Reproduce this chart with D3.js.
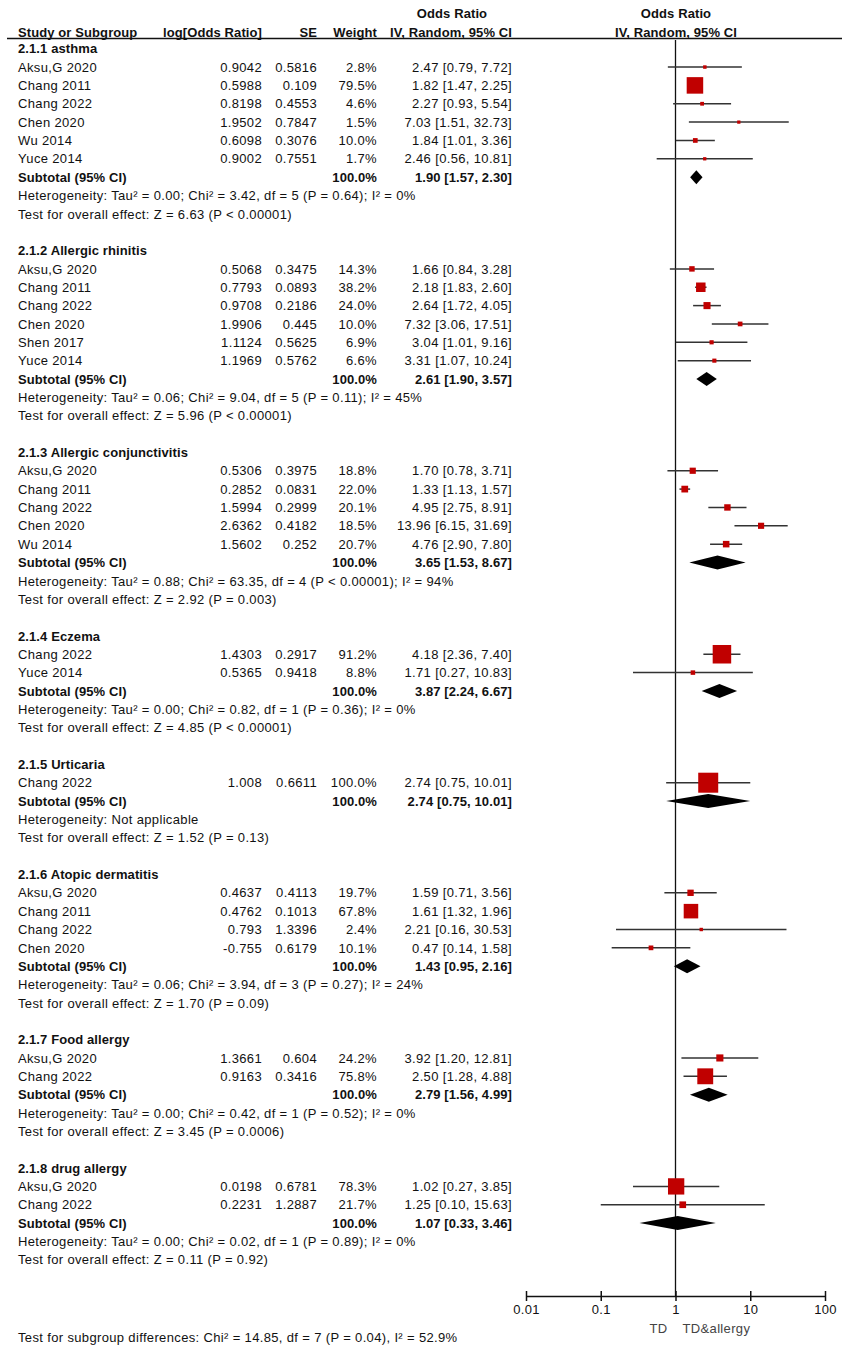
<!DOCTYPE html>
<html>
<head>
<meta charset="utf-8">
<script src="https://cdn.jsdelivr.net/npm/d3@7"></script>
<style>
  body { margin: 0; background: #fff; }
  svg text { font-family: "Liberation Sans", Arial, sans-serif; font-size: 13px; letter-spacing: 0.35px; fill: #111; }
  svg text.bold { font-weight: bold; letter-spacing: 0.1px; }
</style>
</head>
<body>
<svg class="chart"></svg>
<script>
// Data
const GROUP_TITLES = [
  "2.1.1 asthma", "2.1.2 Allergic rhinitis", "2.1.3 Allergic conjunctivitis", "2.1.4 Eczema",
  "2.1.5 Urticaria", "2.1.6 Atopic dermatitis", "2.1.7 Food allergy", "2.1.8 drug allergy"
];

const STUDY_NAMES = [
  ["Aksu,G 2020", "Chang 2011", "Chang 2022", "Chen 2020", "Wu 2014", "Yuce 2014"],
  ["Aksu,G 2020", "Chang 2011", "Chang 2022", "Chen 2020", "Shen 2017", "Yuce 2014"],
  ["Aksu,G 2020", "Chang 2011", "Chang 2022", "Chen 2020", "Wu 2014"],
  ["Chang 2022", "Yuce 2014"],
  ["Chang 2022"],
  ["Aksu,G 2020", "Chang 2011", "Chang 2022", "Chen 2020"],
  ["Aksu,G 2020", "Chang 2022"],
  ["Aksu,G 2020", "Chang 2022"]
];

const LOG_OR = [
  ["0.9042", "0.5988", "0.8198", "1.9502", "0.6098", "0.9002"],
  ["0.5068", "0.7793", "0.9708", "1.9906", "1.1124", "1.1969"],
  ["0.5306", "0.2852", "1.5994", "2.6362", "1.5602"],
  ["1.4303", "0.5365"],
  ["1.008"],
  ["0.4637", "0.4762", "0.793", "-0.755"],
  ["1.3661", "0.9163"],
  ["0.0198", "0.2231"]
];

const SE = [
  ["0.5816", "0.109", "0.4553", "0.7847", "0.3076", "0.7551"],
  ["0.3475", "0.0893", "0.2186", "0.445", "0.5625", "0.5762"],
  ["0.3975", "0.0831", "0.2999", "0.4182", "0.252"],
  ["0.2917", "0.9418"],
  ["0.6611"],
  ["0.4113", "0.1013", "1.3396", "0.6179"],
  ["0.604", "0.3416"],
  ["0.6781", "1.2887"]
];

const WEIGHTS = [
  [2.8, 79.5, 4.6, 1.5, 10.0, 1.7],
  [14.3, 38.2, 24.0, 10.0, 6.9, 6.6],
  [18.8, 22.0, 20.1, 18.5, 20.7],
  [91.2, 8.8],
  [100.0],
  [19.7, 67.8, 2.4, 10.1],
  [24.2, 75.8],
  [78.3, 21.7]
];

const ODDS = [
  [2.47, 1.82, 2.27, 7.03, 1.84, 2.46],
  [1.66, 2.18, 2.64, 7.32, 3.04, 3.31],
  [1.70, 1.33, 4.95, 13.96, 4.76],
  [4.18, 1.71],
  [2.74],
  [1.59, 1.61, 2.21, 0.47],
  [3.92, 2.50],
  [1.02, 1.25]
];

const CI_LOW = [
  [0.79, 1.47, 0.93, 1.51, 1.01, 0.56],
  [0.84, 1.83, 1.72, 3.06, 1.01, 1.07],
  [0.78, 1.13, 2.75, 6.15, 2.90],
  [2.36, 0.27],
  [0.75],
  [0.71, 1.32, 0.16, 0.14],
  [1.20, 1.28],
  [0.27, 0.10]
];

const CI_HIGH = [
  [7.72, 2.25, 5.54, 32.73, 3.36, 10.81],
  [3.28, 2.60, 4.05, 17.51, 9.16, 10.24],
  [3.71, 1.57, 8.91, 31.69, 7.80],
  [7.40, 10.83],
  [10.01],
  [3.56, 1.96, 30.53, 1.58],
  [12.81, 4.88],
  [3.85, 15.63]
];

const SUB_ODDS = [1.90, 2.61, 3.65, 3.87, 2.74, 1.43, 2.79, 1.07];
const SUB_LOW  = [1.57, 1.90, 1.53, 2.24, 0.75, 0.95, 1.56, 0.33];
const SUB_HIGH = [2.30, 3.57, 8.67, 6.67, 10.01, 2.16, 4.99, 3.46];

const HETEROGENEITY = [
  "Heterogeneity: Tau² = 0.00; Chi² = 3.42, df = 5 (P = 0.64); I² = 0%",
  "Heterogeneity: Tau² = 0.06; Chi² = 9.04, df = 5 (P = 0.11); I² = 45%",
  "Heterogeneity: Tau² = 0.88; Chi² = 63.35, df = 4 (P < 0.00001); I² = 94%",
  "Heterogeneity: Tau² = 0.00; Chi² = 0.82, df = 1 (P = 0.36); I² = 0%",
  "Heterogeneity: Not applicable",
  "Heterogeneity: Tau² = 0.06; Chi² = 3.94, df = 3 (P = 0.27); I² = 24%",
  "Heterogeneity: Tau² = 0.00; Chi² = 0.42, df = 1 (P = 0.52); I² = 0%",
  "Heterogeneity: Tau² = 0.00; Chi² = 0.02, df = 1 (P = 0.89); I² = 0%"
];

const OVERALL = [
  "Test for overall effect: Z = 6.63 (P < 0.00001)",
  "Test for overall effect: Z = 5.96 (P < 0.00001)",
  "Test for overall effect: Z = 2.92 (P = 0.003)",
  "Test for overall effect: Z = 4.85 (P < 0.00001)",
  "Test for overall effect: Z = 1.52 (P = 0.13)",
  "Test for overall effect: Z = 1.70 (P = 0.09)",
  "Test for overall effect: Z = 3.45 (P = 0.0006)",
  "Test for overall effect: Z = 0.11 (P = 0.92)"
];

const AXIS_TICKS = [0.01, 0.1, 1, 10, 100];
const SUBGROUP_TEST = "Test for subgroup differences: Chi² = 14.85, df = 7 (P = 0.04), I² = 52.9%";

// Layout
const WIDTH = 849, HEIGHT = 1350;
const COL = { name: 18, logor: 262, se: 317, weight: 377, ci: 512 };
const AXIS_Y = 1296;

const svg = d3.select(".chart").attr("width", WIDTH).attr("height", HEIGHT);

const X_fxn = d3.scaleLog().domain([0.01, 100]).range([526, 825]);
const ROW_fxn = d3.scaleLinear().domain([0, 1]).range([48.7, 67.05]);
const SIZE_fxn = d3.scaleLinear().domain([0, 100]).range([3, 20]);

const fmtCI = (o, l, h) => `${o.toFixed(2)} [${l.toFixed(2)}, ${h.toFixed(2)}]`;

function addText(x, y, txt, anchor, bold) {
  return svg.append("text")
    .attr("x", x).attr("y", y).attr("dy", "0.36em")
    .attr("text-anchor", anchor || "start")
    .attr("class", bold ? "bold" : null)
    .text(txt);
}

// header
addText(452, 13, "Odds Ratio", "middle", true);
addText(676, 13, "Odds Ratio", "middle", true);
addText(COL.name, 32, "Study or Subgroup", "start", true);
addText(COL.logor, 32, "log[Odds Ratio]", "end", true);
addText(COL.se, 32, "SE", "end", true);
addText(COL.weight, 32, "Weight", "end", true);
addText(COL.ci, 32, "IV, Random, 95% CI", "end", true);
addText(676, 32, "IV, Random, 95% CI", "middle", true);
svg.append("line").attr("x1", 7).attr("x2", 842).attr("y1", 38.5).attr("y2", 38.5)
  .attr("stroke", "#111").attr("stroke-width", 1.5);

// line of no effect
svg.append("line")
  .attr("x1", X_fxn(1)).attr("x2", X_fxn(1))
  .attr("y1", 40).attr("y2", AXIS_Y)
  .attr("stroke", "#111").attr("stroke-width", 1.3);

let row = 0;
GROUP_TITLES.forEach((title, g) => {
  addText(COL.name, ROW_fxn(row), title, "start", true);
  row++;
  STUDY_NAMES[g].forEach((name, i) => {
    const y = ROW_fxn(row);
    addText(COL.name, y, name);
    addText(COL.logor, y, LOG_OR[g][i], "end");
    addText(COL.se, y, SE[g][i], "end");
    addText(COL.weight, y, WEIGHTS[g][i].toFixed(1) + "%", "end");
    addText(COL.ci, y, fmtCI(ODDS[g][i], CI_LOW[g][i], CI_HIGH[g][i]), "end");
    svg.append("line")
      .attr("x1", X_fxn(CI_LOW[g][i])).attr("x2", X_fxn(CI_HIGH[g][i]))
      .attr("y1", y).attr("y2", y)
      .attr("stroke", "#333").attr("stroke-width", 1.5);
    const s = SIZE_fxn(WEIGHTS[g][i]);
    svg.append("rect")
      .attr("x", X_fxn(ODDS[g][i]) - s / 2).attr("y", y - s / 2)
      .attr("width", s).attr("height", s)
      .attr("fill", "#c00000");
    row++;
  });
  const ys = ROW_fxn(row);
  addText(COL.name, ys, "Subtotal (95% CI)", "start", true);
  addText(COL.weight, ys, "100.0%", "end", true);
  addText(COL.ci, ys, fmtCI(SUB_ODDS[g], SUB_LOW[g], SUB_HIGH[g]), "end", true);
  const pts = [
    [X_fxn(SUB_LOW[g]), ys], [X_fxn(SUB_ODDS[g]), ys - 7],
    [X_fxn(SUB_HIGH[g]), ys], [X_fxn(SUB_ODDS[g]), ys + 7]
  ];
  svg.append("path").attr("d", d3.line()(pts) + "Z").attr("fill", "#000");
  row++;
  addText(COL.name, ROW_fxn(row), HETEROGENEITY[g]);
  row++;
  addText(COL.name, ROW_fxn(row), OVERALL[g]);
  row += 2;
});

// axis
const axis = svg.append("g")
  .attr("transform", `translate(0, ${AXIS_Y})`)
  .call(d3.axisBottom(X_fxn).tickValues(AXIS_TICKS).tickFormat(d => String(d)).tickSize(5).tickSizeOuter(0));
axis.attr("font-size", null).attr("font-family", null);
axis.select(".domain").attr("stroke", "#111").attr("stroke-width", 1.5);
axis.selectAll(".tick line").attr("y1", -5).attr("y2", 5).attr("stroke", "#111").attr("stroke-width", 1.5);
axis.selectAll(".tick text").attr("y", 9).attr("fill", "#111");

svg.append("text").attr("x", X_fxn(1) - 8).attr("y", 1328).attr("dy", "0.36em")
  .attr("text-anchor", "end").style("fill", "#444").text("TD");
svg.append("text").attr("x", X_fxn(1) + 7).attr("y", 1328).attr("dy", "0.36em")
  .attr("text-anchor", "start").style("fill", "#444").text("TD&allergy");

addText(COL.name, 1337, SUBGROUP_TEST);
</script>
</body>
</html>
